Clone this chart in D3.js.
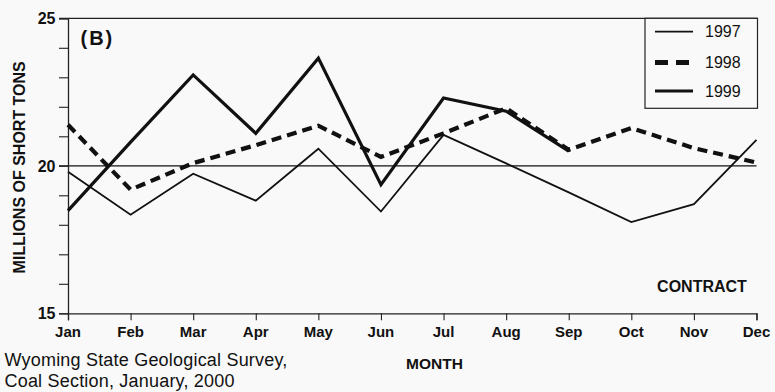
<!DOCTYPE html>
<html>
<head>
<meta charset="utf-8">
<script src="https://cdn.jsdelivr.net/npm/d3@7"></script>
<style>
  html, body { margin: 0; padding: 0; background: #f9f9f9; }
  svg { display: block; }
  text { font-family: "Liberation Sans", Arial, Helvetica, sans-serif; fill: #111; }
</style>
</head>
<body>
<svg id="chart" width="775" height="392"></svg>
<script>
// Monthly contract coal production, millions of short tons
const months = ["Jan","Feb","Mar","Apr","May","Jun","Jul","Aug","Sep","Oct","Nov","Dec"];
const values1997 = [19.8, 18.34, 19.73, 18.82, 20.58, 18.45, 21.05, 20.08, 19.1, 18.09, 18.7, 20.88];
const values1998 = [21.39, 19.19, 20.09, 20.7, 21.36, 20.3, 21.1, 21.95, 20.54, 21.28, 20.6, 20.11];
const values1999 = [18.48, 20.8, 23.08, 21.1, 23.65, 19.36, 22.3, 21.85, 20.5];
const yTicks = [15, 20, 25];
const yMinorTicks = [15, 16, 17, 18, 19, 20, 21, 22, 23, 24, 25];

const series = [
  { name: "1997", values: values1997, width: 1.8, dash: null },
  { name: "1998", values: values1998, width: 4.2, dash: "10,6" },
  { name: "1999", values: values1999, width: 3.2, dash: null }
];

const svg = d3.select("#chart");
const plotLeft = 68, plotRight = 756.5, plotTop = 18.3, plotBottom = 313.3;

const x = d3.scalePoint().domain(months).range([plotLeft, plotRight]);
const y = d3.scaleLinear().domain([15, 25]).range([plotBottom, plotTop]);

// frame: top border
svg.append("line")
  .attr("x1", plotLeft - 9).attr("x2", plotRight + 1)
  .attr("y1", y(25)).attr("y2", y(25))
  .attr("stroke", "#222").attr("stroke-width", 1.2);

// reference line at 20
svg.append("line")
  .attr("x1", plotLeft - 9).attr("x2", plotRight)
  .attr("y1", y(20)).attr("y2", y(20))
  .attr("stroke", "#111").attr("stroke-width", 1.3);

// y axis
const yAxis = d3.axisLeft(y).tickValues(yMinorTicks).tickSize(9).tickFormat("");
const gy = svg.append("g").attr("transform", `translate(${plotLeft},0)`).call(yAxis);
gy.select(".domain").attr("stroke", "#222").attr("stroke-width", 1.3);
gy.selectAll(".tick line").attr("stroke", "#222").attr("stroke-width", 1.1);

svg.append("g").selectAll("text").data(yTicks).join("text")
  .attr("x", 55.5).attr("y", d => y(d))
  .attr("dy", "0.36em")
  .attr("text-anchor", "end")
  .style("font-weight", "bold").style("font-size", "16px")
  .text(d => d);

// x axis
const xAxis = d3.axisBottom(x).tickSize(7).tickFormat("");
const gx = svg.append("g").attr("transform", `translate(0,${plotBottom})`).call(xAxis);
gx.select(".domain").attr("stroke", "#222").attr("stroke-width", 1.3);
gx.selectAll(".tick line").attr("stroke", "#222").attr("stroke-width", 1.1);

svg.append("g").selectAll("text").data(months).join("text")
  .attr("x", d => x(d)).attr("y", 336.5)
  .attr("text-anchor", "middle")
  .style("font-weight", "bold").style("font-size", "15px")
  .text(d => d);

// series lines
const line = d3.line().x((d, i) => x(months[i])).y(d => y(d));
svg.append("g").selectAll("path").data(series).join("path")
  .attr("d", s => line(s.values))
  .attr("fill", "none")
  .attr("stroke", "#111")
  .attr("stroke-width", s => s.width)
  .attr("stroke-dasharray", s => s.dash)
  .attr("stroke-linejoin", "miter");

// legend
const legend = svg.append("g");
legend.append("rect")
  .attr("x", 645).attr("y", y(25))
  .attr("width", 112.5).attr("height", 90)
  .attr("fill", "#f9f9f9").attr("stroke", "#222").attr("stroke-width", 1.2);
const legendY = [31.7, 62.5, 91];
series.forEach((s, i) => {
  legend.append("line")
    .attr("x1", 655).attr("x2", s.dash ? 692 : 693)
    .attr("y1", legendY[i]).attr("y2", legendY[i])
    .attr("stroke", "#111")
    .attr("stroke-width", s.dash ? 5 : s.width)
    .attr("stroke-dasharray", s.dash ? "13,8" : null);
  legend.append("text")
    .attr("x", 705).attr("y", legendY[i]).attr("dy", "0.36em")
    .style("font-size", "16px")
    .text(s.name);
});

// panel label and annotations
svg.append("text").attr("x", 80.5).attr("y", 44.5)
  .style("font-weight", "bold").style("font-size", "20px")
  .style("letter-spacing", "2px").text("(B)");

svg.append("text").attr("x", 702).attr("y", 291.5)
  .attr("text-anchor", "middle")
  .style("font-weight", "bold").style("font-size", "16px").text("CONTRACT");

svg.append("text").attr("x", 434.5).attr("y", 369)
  .attr("text-anchor", "middle")
  .style("font-weight", "bold").style("font-size", "15.5px").text("MONTH");

svg.append("text")
  .attr("transform", `translate(25,${(plotTop + plotBottom) / 2 + 1.5}) rotate(-90)`)
  .attr("text-anchor", "middle")
  .style("font-weight", "bold").style("font-size", "16px")
  .text("MILLIONS OF SHORT TONS");

// source note, two lines
svg.append("text").attr("x", 4.5).attr("y", 366)
  .style("font-size", "18px").style("letter-spacing", "0.2px")
  .text("Wyoming State Geological Survey,");
svg.append("text").attr("x", 4.5).attr("y", 386.5)
  .style("font-size", "18px").style("letter-spacing", "0.2px")
  .text("Coal Section, January, 2000");
</script>
</body>
</html>
